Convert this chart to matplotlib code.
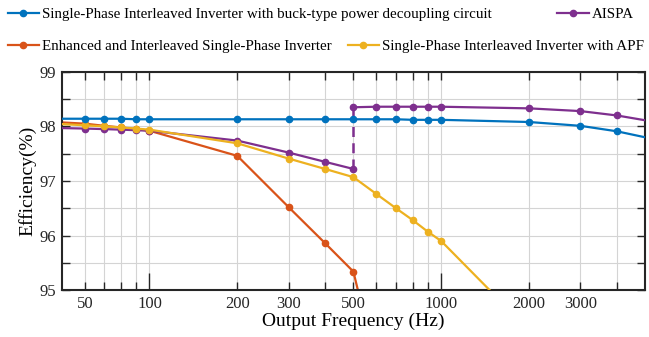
import matplotlib
matplotlib.use("Agg")
import matplotlib.pyplot as plt
from matplotlib.ticker import FixedLocator, NullFormatter

plt.rcParams["font.family"] = ["Liberation Serif", "DejaVu Serif"]
plt.rcParams["mathtext.fontset"] = "stix"

# data (x in Hz, efficiency in %)
freq_low = [40, 60, 70, 80, 90, 100, 200, 300, 400, 500]
freq_buck = [40, 60, 70, 80, 90, 100, 200, 300, 400, 500, 600, 700, 800, 900,
             1000, 2000, 3000, 4000, 6000]
eff_buck = [98.14, 98.14, 98.14, 98.14, 98.13, 98.13, 98.13, 98.13, 98.13,
            98.13, 98.13, 98.13, 98.12, 98.12, 98.12, 98.08, 98.01, 97.91, 97.71]

freq_enh = [40, 60, 70, 80, 90, 100, 200, 300, 400, 500, 600]
eff_enh = [98.10, 98.05, 98.01, 97.98, 97.95, 97.92, 97.46, 96.52, 95.86, 95.34, 93.60]

freq_apf = [40, 60, 70, 80, 90, 100, 200, 300, 400, 500, 600, 700, 800, 900,
            1000, 2000]
eff_apf = [98.07, 98.02, 98.00, 97.98, 97.96, 97.94, 97.69, 97.41, 97.22, 97.07,
           96.76, 96.50, 96.28, 96.07, 95.90, 94.27]

freq_aispa_lo = freq_low
eff_aispa_lo = [97.98, 97.96, 97.95, 97.94, 97.93, 97.92, 97.74, 97.52, 97.35, 97.22]
freq_aispa_hi = [500, 600, 700, 800, 900, 1000, 2000, 3000, 4000, 6000]
eff_aispa_hi = [98.35, 98.36, 98.36, 98.36, 98.36, 98.36, 98.33, 98.28, 98.20, 98.04]

xtick_pos = [60, 100, 200, 300, 500, 1000, 2000, 3000]
xtick_lab = ["50", "100", "200", "300", "500", "1000", "2000", "3000"]
xminor_pos = [70, 80, 90, 400, 600, 700, 800, 900, 4000]

BLUE = "#0072BD"
ORANGE = "#D95319"
YELLOW = "#EDB120"
PURPLE = "#7E2F8E"

fig = plt.figure(figsize=(6.49, 3.37), dpi=100)
ax = fig.add_axes([0.095, 0.139, 0.899, 0.648])

kw = dict(marker="o", markersize=4.5, linewidth=1.6)
ax.plot(freq_buck, eff_buck, color=BLUE, zorder=5,
        label="Single-Phase Interleaved Inverter with buck-type power decoupling circuit", **kw)
ax.plot(freq_aispa_lo, eff_aispa_lo, color=PURPLE, zorder=3, label="AISPA", **kw)
ax.plot(freq_aispa_hi, eff_aispa_hi, color=PURPLE, zorder=3, **kw)
ax.plot([freq_aispa_lo[-1], freq_aispa_hi[0]], [eff_aispa_lo[-1], eff_aispa_hi[0]],
        color=PURPLE, linestyle=(0, (4, 2.5)), linewidth=1.8, zorder=3)
ax.plot(freq_enh, eff_enh, color=ORANGE, zorder=2,
        label="Enhanced and Interleaved Single-Phase Inverter", **kw)
ax.plot(freq_apf, eff_apf, color=YELLOW, zorder=4,
        label="Single-Phase Interleaved Inverter with APF", **kw)

ax.set_xscale("log")
ax.set_xlim(50, 5000)
ax.set_ylim(95, 99)

ax.xaxis.set_major_locator(FixedLocator(xtick_pos))
ax.set_xticklabels(xtick_lab)
ax.xaxis.set_minor_locator(FixedLocator(xminor_pos))
ax.xaxis.set_minor_formatter(NullFormatter())
ax.set_yticks([95, 96, 97, 98, 99])
ax.set_yticks([95.5, 96.5, 97.5, 98.5], minor=True)

ax.grid(True, which="both", color="#d4d4d4", linewidth=0.8)
ax.set_axisbelow(True)

ax.tick_params(which="both", direction="in", top=True, right=True,
               labelsize=12, width=1.0, colors="#262626", pad=4)
ax.tick_params(which="major", length=6)
ax.tick_params(which="minor", length=6)
for t, v in zip(ax.xaxis.get_major_ticks(), xtick_pos):
    if v in (100, 1000):
        t.tick1line.set_markersize(12)

for s in ax.spines.values():
    s.set_linewidth(1.5)
    s.set_color("#262626")

ax.set_xlabel("Output Frequency (Hz)", fontsize=14, labelpad=1)
ax.set_ylabel("Efficiency(%)", fontsize=14, labelpad=2)

h, l = ax.get_legend_handles_labels()
fig.legend([h[0], h[1]], [l[0], l[1]], loc="upper left", bbox_to_anchor=(0.0, 1.0),
           ncol=2, frameon=False, fontsize=10.8, columnspacing=4.35,
           handlelength=2.1, handletextpad=0.2, borderaxespad=0.1)
fig.legend([h[2], h[3]], [l[2], l[3]], loc="upper left", bbox_to_anchor=(0.0, 0.905),
           ncol=2, frameon=False, fontsize=10.8, columnspacing=1.05,
           handlelength=2.1, handletextpad=0.2, borderaxespad=0.1)

fig.savefig("out.png", dpi=100)
